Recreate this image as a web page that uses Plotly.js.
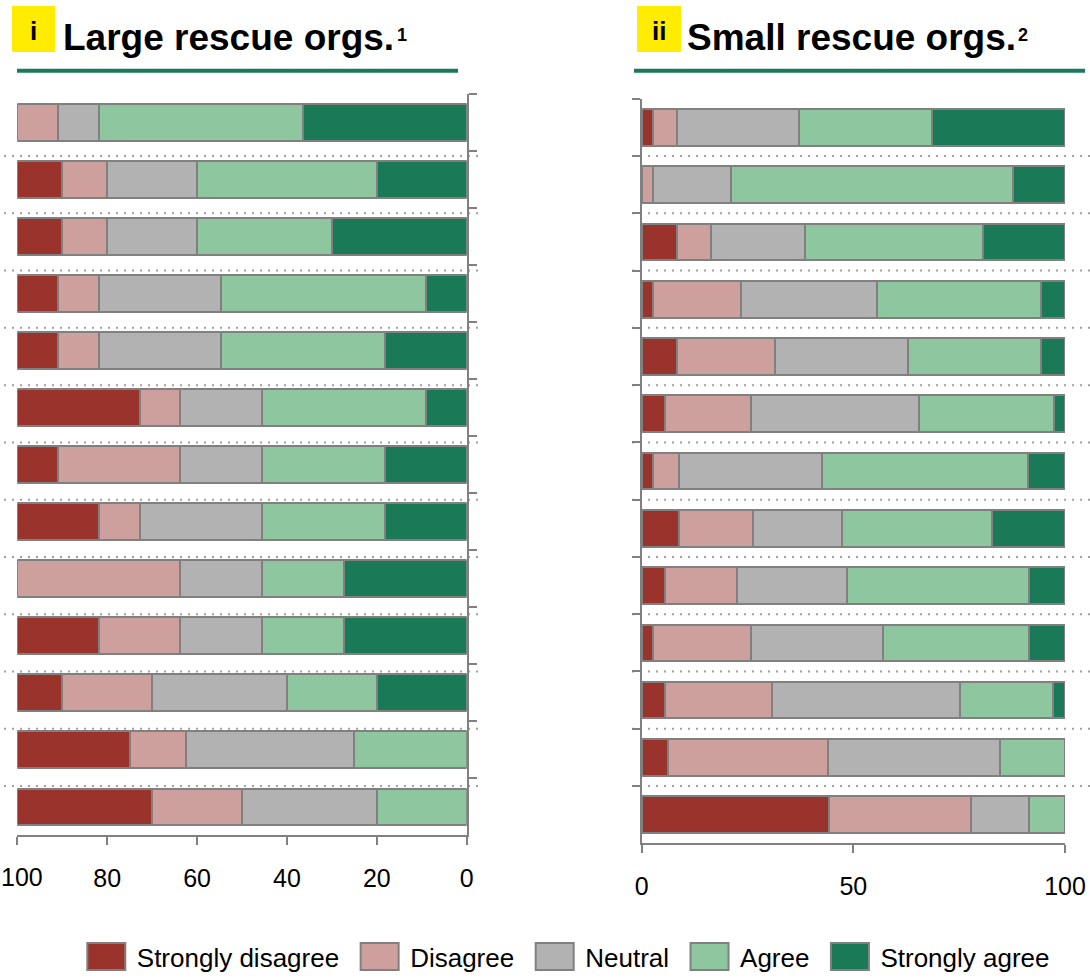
<!DOCTYPE html>
<html>
<head>
<meta charset="utf-8">
<script src="https://cdn.plot.ly/plotly-3.0.1.min.js"></script>
<style>html,body{margin:0;padding:0;background:#fff;}#chart{width:1090px;height:980px;}</style>
</head>
<body>
<div id="chart"></div>
<script>
// ---- Data (percent of respondents, statements top to bottom) ----
const statements = ['S1','S2','S3','S4','S5','S6','S7','S8','S9','S10','S11','S12','S13'];
const responseLevels = ['Strongly disagree','Disagree','Neutral','Agree','Strongly agree'];

// Large rescue orgs.
const largeStronglyDisagree = [0, 10, 10, 9.1, 9.1, 27.3, 9.1, 18.2, 0, 18.2, 10, 25, 30];
const largeDisagree         = [9.1, 10, 10, 9.1, 9.1, 9.1, 27.3, 9.1, 36.4, 18.2, 20, 12.5, 20];
const largeNeutral          = [9.1, 20, 20, 27.3, 27.3, 18.2, 18.2, 27.3, 18.2, 18.2, 30, 37.5, 30];
const largeAgree            = [45.5, 40, 30, 45.5, 36.4, 36.4, 27.3, 27.3, 18.2, 18.2, 20, 25, 20];
const largeStronglyAgree    = [36.4, 20, 30, 9.1, 18.2, 9.1, 18.2, 18.2, 27.3, 27.3, 20, 0, 0];

// Small rescue orgs.
const smallStronglyDisagree = [2.6, 0, 8.3, 2.6, 8.3, 5.5, 2.6, 8.9, 5.5, 2.6, 5.5, 6.1, 44.3];
const smallDisagree         = [5.7, 2.6, 8.1, 20.9, 23.2, 20.3, 6.3, 17.5, 17.1, 23.2, 25.2, 37.8, 33.6];
const smallNeutral          = [28.9, 18.5, 22.2, 32.2, 31.3, 39.8, 33.6, 20.9, 26.0, 31.3, 44.5, 40.8, 13.6];
const smallAgree            = [31.3, 66.7, 42.1, 38.7, 31.6, 31.7, 48.7, 35.4, 43.0, 34.5, 22.0, 15.4, 8.4];
const smallStronglyAgree    = [31.5, 12.2, 19.3, 5.7, 5.7, 2.8, 8.8, 17.3, 8.4, 8.4, 2.8, 0, 0];

const panelTitles = ['Large rescue orgs.', 'Small rescue orgs.'];
const panelLabels = ['i', 'ii'];
const panelNotes = ['1', '2'];
const leftTicks = [100, 80, 60, 40, 20, 0];
const rightTicks = [0, 50, 100];

// ---- Styles ----
const levelColors = ['#99332B', '#CDA09E', '#B2B2B2', '#8EC6A0', '#1A7A57'];
const outline = '#808080';
const FONT = 'Liberation Sans, Arial, Helvetica, sans-serif';
const W = 1090, H = 980;
const px = v => v / W;
const py = v => 1 - v / H;

const largeSeries = [largeStronglyDisagree, largeDisagree, largeNeutral, largeAgree, largeStronglyAgree];
const smallSeries = [smallStronglyDisagree, smallDisagree, smallNeutral, smallAgree, smallStronglyAgree];

function barTrace(vals, i, xa, ya, showLeg) {
  return {
    type: 'bar', orientation: 'h',
    x: vals, y: statements,
    name: responseLevels[i],
    xaxis: xa, yaxis: ya,
    width: 0.64,
    cliponaxis: false,
    marker: {color: levelColors[i], line: {color: outline, width: 2}},
    showlegend: showLeg,
    hoverinfo: 'skip'
  };
}

const data = [];
// left panel stacks from 0 (right side) outward: strongly agree first
for (let i = 4; i >= 0; i--) data.push(barTrace(largeSeries[i], i, 'x', 'y', false));
for (let i = 0; i < 5; i++) data.push(barTrace(smallSeries[i], i, 'x2', 'y2', true));

const axisCommon = {
  showline: true, linecolor: outline, linewidth: 2,
  ticks: 'outside', ticklen: 8, tickwidth: 2, tickcolor: outline,
  showgrid: false, zeroline: false, automargin: false, fixedrange: true
};
const tickFont = {family: FONT, size: 25, color: '#000'};

const shapes = [];
const annotations = [];

// yellow label boxes and green underline
const labelBoxes = [[12, 55], [637, 681]];
const underlines = [[17, 458], [634, 1085]];
for (let p = 0; p < 2; p++) {
  shapes.push({type: 'rect', xref: 'paper', yref: 'paper',
    x0: px(labelBoxes[p][0]), x1: px(labelBoxes[p][1]), y0: py(52), y1: py(6),
    fillcolor: '#FFEC00', line: {width: 0}, layer: 'above'});
  shapes.push({type: 'line', xref: 'paper', yref: 'paper',
    x0: px(underlines[p][0]), x1: px(underlines[p][1]), y0: py(71), y1: py(71),
    line: {color: '#1A7A57', width: 4}});
}
// dotted separators between statements
const dotSpans = [[4, 478], [632, 1090]];
for (let k = 0; k < statements.length - 1; k++) {
  for (const s of dotSpans) {
    shapes.push({type: 'line', xref: 'paper', yref: 'y2',
      x0: px(s[0]), x1: px(s[1]), y0: k + 0.5, y1: k + 0.5,
      line: {color: '#A0A0A0', width: 2, dash: '2px,6px'}, layer: 'below'});
  }
}

// titles
const titleX = [61, 684.5];
const noteX = [395, 1016];
const labelX = [33.5, 658.5];
for (let p = 0; p < 2; p++) {
  annotations.push({xref: 'paper', yref: 'paper', x: px(titleX[p]), y: py(38),
    xanchor: 'left', yanchor: 'middle', showarrow: false, text: panelTitles[p],
    font: {family: FONT, size: 37, color: '#000', weight: 700}});
  annotations.push({xref: 'paper', yref: 'paper', x: px(noteX[p]), y: py(35),
    xanchor: 'left', yanchor: 'middle', showarrow: false, text: panelNotes[p],
    font: {family: FONT, size: 18, color: '#000', weight: 700}});
  annotations.push({xref: 'paper', yref: 'paper', x: px(labelX[p]), y: py(31),
    xanchor: 'center', yanchor: 'middle', showarrow: false, text: panelLabels[p],
    font: {family: FONT, size: 26, color: '#000', weight: 700}});
}
// the outermost left tick label sits at the page edge: draw it left-aligned so it stays whole
annotations.push({xref: 'paper', yref: 'paper', x: 0, y: py(878.5),
  xanchor: 'left', yanchor: 'middle', showarrow: false, text: String(leftTicks[0]),
  font: tickFont, borderpad: 0});

const layout = {
  width: W, height: H,
  margin: {l: 0, r: 0, t: 0, b: 0},
  paper_bgcolor: '#fff', plot_bgcolor: 'rgba(0,0,0,0)',
  barmode: 'stack',
  hovermode: false,
  font: {family: FONT, color: '#000'},
  xaxis: Object.assign({}, axisCommon, {
    domain: [px(17.3), px(466.7)], anchor: 'y', range: [100, 0],
    tickmode: 'array', tickvals: leftTicks,
    ticktext: leftTicks.map((t, i) => i === 0 ? '' : String(t)),
    tickfont: tickFont, ticklabelstandoff: 12, ticklabeloverflow: 'allow'
  }),
  yaxis: Object.assign({}, axisCommon, {
    domain: [py(837), py(94)], anchor: 'x', side: 'right',
    type: 'category', categoryorder: 'array', categoryarray: statements,
    autorange: 'reversed', tickson: 'boundaries', showticklabels: false
  }),
  xaxis2: Object.assign({}, axisCommon, {
    domain: [px(641.7), px(1065)], anchor: 'y2', range: [0, 100],
    tickmode: 'array', tickvals: rightTicks, ticktext: rightTicks.map(String),
    tickfont: tickFont, ticklabelstandoff: 12, ticklabeloverflow: 'allow'
  }),
  yaxis2: Object.assign({}, axisCommon, {
    domain: [py(845), py(99)], anchor: 'x2', side: 'left',
    type: 'category', categoryorder: 'array', categoryarray: statements,
    autorange: 'reversed', tickson: 'boundaries', showticklabels: false
  }),
  legend: {
    orientation: 'h', x: px(70.8), xanchor: 'left', y: py(958.5), yanchor: 'middle',
    traceorder: 'normal', itemwidth: 56, bgcolor: 'rgba(0,0,0,0)',
    font: {family: FONT, size: 26, color: '#000'}, itemclick: false, itemdoubleclick: false
  },
  shapes: shapes,
  annotations: annotations
};

const gd = document.getElementById('chart');
Plotly.newPlot(gd, data, layout, {displayModeBar: false, responsive: false}).then(function () {
  // enlarge legend swatches to match the reference boxes
  gd.querySelectorAll('.legend .legendpoints path').forEach(function (p) {
    p.setAttribute('d', 'M21.5,13.5H-16.5V-13.5H21.5Z');
  });
});
</script>
</body>
</html>
